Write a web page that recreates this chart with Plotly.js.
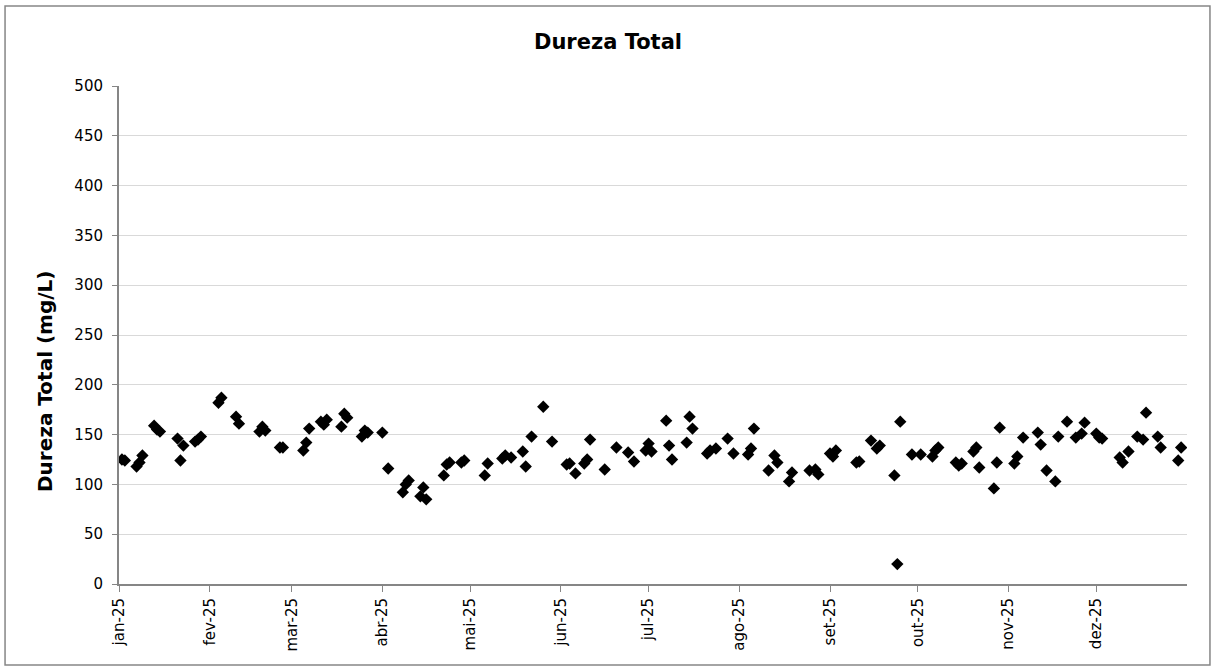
<!DOCTYPE html>
<html>
<head>
<meta charset="utf-8">
<script src="https://cdn.plot.ly/plotly-3.0.1.min.js"></script>
<style>html,body{margin:0;padding:0;background:#fff;}#chart{width:1216px;height:668px;}</style>
</head>
<body>
<div id="chart"></div>
<script>
const dates = [
"2025-01-02","2025-01-03","2025-01-07","2025-01-08","2025-01-09","2025-01-13","2025-01-14","2025-01-15",
"2025-01-21","2025-01-22","2025-01-23","2025-01-27","2025-01-28","2025-01-29",
"2025-02-04","2025-02-05","2025-02-10","2025-02-11","2025-02-18","2025-02-19","2025-02-20","2025-02-25","2025-02-26",
"2025-03-05","2025-03-06","2025-03-07","2025-03-11","2025-03-12","2025-03-13","2025-03-18","2025-03-19","2025-03-20",
"2025-03-25","2025-03-26","2025-03-27",
"2025-04-01","2025-04-03","2025-04-08","2025-04-09","2025-04-10","2025-04-14","2025-04-15","2025-04-16",
"2025-04-22","2025-04-23","2025-04-24","2025-04-28","2025-04-29",
"2025-05-06","2025-05-07","2025-05-12","2025-05-13","2025-05-15","2025-05-19","2025-05-20","2025-05-22","2025-05-26","2025-05-29",
"2025-06-03","2025-06-04","2025-06-06","2025-06-09","2025-06-10","2025-06-11","2025-06-16","2025-06-20","2025-06-24","2025-06-26","2025-06-30",
"2025-07-01","2025-07-02","2025-07-07","2025-07-08","2025-07-09","2025-07-14","2025-07-15","2025-07-16",
"2025-07-21","2025-07-22","2025-07-24","2025-07-28","2025-07-30",
"2025-08-04","2025-08-05","2025-08-06","2025-08-11","2025-08-13","2025-08-14","2025-08-18","2025-08-19",
"2025-08-25","2025-08-27","2025-08-28",
"2025-09-01","2025-09-02","2025-09-03","2025-09-10","2025-09-11","2025-09-15","2025-09-17","2025-09-18",
"2025-09-23","2025-09-24","2025-09-25","2025-09-29",
"2025-10-02","2025-10-06","2025-10-07","2025-10-08","2025-10-14","2025-10-15","2025-10-16",
"2025-10-20","2025-10-21","2025-10-22","2025-10-27","2025-10-28","2025-10-29",
"2025-11-03","2025-11-04","2025-11-06","2025-11-11","2025-11-12","2025-11-14","2025-11-17","2025-11-18",
"2025-11-21","2025-11-24","2025-11-26","2025-11-27",
"2025-12-01","2025-12-02","2025-12-03","2025-12-09","2025-12-10","2025-12-12","2025-12-15","2025-12-17","2025-12-18",
"2025-12-22","2025-12-23","2025-12-29","2025-12-30"
];
const dureza = [
125,124,118,122,129,159,155,153,
146,124,139,143,145,148,
182,187,168,161,153,158,154,137,137,
134,142,156,163,160,165,158,171,167,
148,154,152,
152,116,92,100,104,88,97,85,
109,120,122,122,124,
109,121,126,129,127,133,118,148,178,143,
120,121,111,121,125,145,115,137,132,123,134,
141,133,164,139,125,142,168,156,
131,134,136,146,131,
130,136,156,114,129,122,103,112,
114,115,110,
131,128,134,122,123,144,136,139,
109,20,163,130,
130,128,134,137,122,119,121,
133,137,117,96,122,157,
121,128,147,152,140,114,103,148,
163,147,151,162,
151,147,146,127,122,133,148,145,172,
148,137,124,137
];
const tickVals = ["2025-01-01","2025-02-01","2025-03-01","2025-04-01","2025-05-01","2025-06-01",
"2025-07-01","2025-08-01","2025-09-01","2025-10-01","2025-11-01","2025-12-01"];
const tickText = ["jan-25","fev-25","mar-25","abr-25","mai-25","jun-25","jul-25","ago-25","set-25","out-25","nov-25","dez-25"];
const chartTitle = "Dureza Total";
const yTitle = "Dureza Total (mg/L)";

const font = "Verdana, 'DejaVu Sans', sans-serif";
const trace = {
  x: dates, y: dureza, type: "scatter", mode: "markers",
  marker: {symbol: "diamond", size: 9.5, color: "#000000"},
  hoverinfo: "x+y"
};
const layout = {
  width: 1216, height: 668,
  margin: {l: 119, r: 29, t: 86, b: 84},
  paper_bgcolor: "#ffffff", plot_bgcolor: "#ffffff",
  font: {family: font, size: 15, color: "#000"},
  showlegend: false,
  title: {text: "<b>" + chartTitle + "</b>", font: {family: font, size: 21, color: "#000"}, x: 0.5, xanchor: "center", y: 0.938, yanchor: "middle"},
  xaxis: {
    type: "date", range: ["2025-01-01", "2026-01-01"],
    tickmode: "array", tickvals: tickVals, ticktext: tickText, tickangle: -90,
    showgrid: false, zeroline: false,
    showline: true, linecolor: "#868686", linewidth: 2,
    ticks: "outside", ticklen: 6, tickcolor: "#868686", tickwidth: 1,
    tickfont: {family: font, size: 15, color: "#000"}
  },
  yaxis: {
    range: [0, 500], dtick: 50, tick0: 0,
    showgrid: true, gridcolor: "#d9d9d9", gridwidth: 1, zeroline: false,
    showline: true, linecolor: "#868686", linewidth: 2,
    ticks: "outside", ticklen: 5, tickcolor: "#868686",
    ticklabelstandoff: 6,
    tickfont: {family: font, size: 15, color: "#000"}
  },
  annotations: [{
    text: "<b>" + yTitle + "</b>", textangle: -90, showarrow: false,
    xref: "paper", yref: "paper", x: -0.0693, y: 0.4076, xanchor: "center", yanchor: "middle",
    font: {family: font, size: 20, color: "#000"}
  }],
  shapes: [{type: "rect", xref: "paper", yref: "paper", x0: -0.1067, x1: 1.0215, y0: -0.1627, y1: 1.1606,
    line: {color: "#868686", width: 1.5}, fillcolor: "rgba(0,0,0,0)"}]
};
Plotly.newPlot("chart", [trace], layout, {displayModeBar: false, staticPlot: true});
</script>
</body>
</html>
